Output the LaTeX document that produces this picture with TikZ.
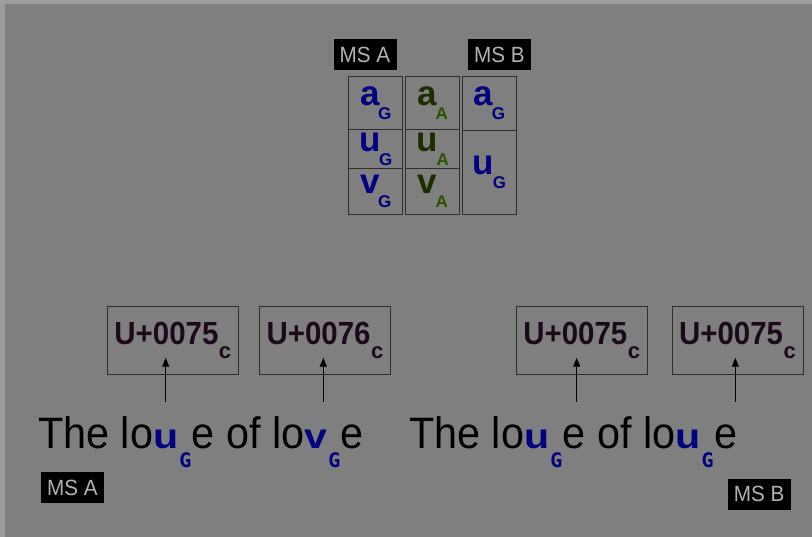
\documentclass[tikz,border=0pt]{standalone}
\usepackage{fontspec}
\usepackage{graphicx}
\setmainfont{Liberation Sans}
\newfontfamily\narrowfont[FakeStretch=0.94]{Liberation Sans}
\newfontfamily\codefont[FakeStretch=0.92]{Liberation Sans}
\newfontfamily\gmono{DejaVu Sans Mono}
\usetikzlibrary{arrows.meta}
\definecolor{bg}{HTML}{7F7F7F}
\definecolor{edgecol}{HTML}{9C9C9C}
\definecolor{navyG}{RGB}{0,0,128}
\definecolor{grA}{HTML}{1A2E00}
\definecolor{grAsub}{HTML}{2A5200}
\definecolor{codeC}{HTML}{1C0A1C}
\definecolor{boxline}{HTML}{2E2E2E}
\definecolor{labtxt}{HTML}{AEB4B4}
\newcommand{\sz}[1]{\fontsize{#1}{#1}\selectfont}
\newcommand{\cellG}[1]{\textcolor{navyG}{\bfseries\sz{35}#1\kern-1.5pt\raisebox{-14pt}{\sz{17}G}}}
\newcommand{\cellA}[1]{{\bfseries\sz{35}\textcolor{grA}{#1}\kern-1.5pt\raisebox{-14pt}{\textcolor{grAsub}{\sz{17}A}}}}
\newcommand{\codeU}[1]{{\codefont\bfseries\sz{32}\textcolor{codeC}{#1}}\kern0.5pt\raisebox{-14pt}{\bfseries\sz{22}\textcolor{codeC}{c}}}
\newcommand{\bu}[1]{\textcolor{navyG}{\scalebox{1.25}[1]{\bfseries\sz{35}#1}}\kern1pt\raisebox{-18.5pt}{\textcolor{navyG}{\gmono\bfseries\sz{20}G}}\kern0.5pt}
\tikzset{
  cell/.style={draw=boxline, line width=0.9pt, inner sep=0pt, anchor=north west},
  codebox/.style={draw=boxline, line width=0.9pt, minimum width=131pt, minimum height=68pt, inner sep=0pt},
  mslabel/.style={fill=black, text=labtxt, minimum width=63pt, minimum height=31pt, inner sep=0pt, font=\narrowfont\sz{22}},
  sentence/.style={anchor=base west, inner sep=0pt, font=\narrowfont\sz{44}},
  arr/.style={-{Triangle[length=9pt,width=7pt]}, line width=0.8pt, draw=black},
}
\begin{document}
\begin{tikzpicture}[x=1pt,y=-1pt]
\useasboundingbox (0,0) rectangle (812,537);
\fill[edgecol] (0,0) rectangle (812,537);
\fill[bg] (5,4) rectangle (812,537);

% top labels
\node[mslabel] (msAtop) at (365,54.5) {MS A};
\node[mslabel] (msBtop) at (499.5,55) {MS B};

% table column 1
\node[cell, minimum width=54pt, minimum height=52.6pt] (c11) at (348.3,76) {\cellG{a}};
\node[cell, minimum width=54pt, minimum height=39.6pt] (c12) at (348.3,128.6) {\cellG{u}};
\node[cell, minimum width=54pt, minimum height=45.8pt] (c13) at (348.3,168.2) {\cellG{v}};
% column 2
\node[cell, minimum width=54pt, minimum height=53.2pt] (c21) at (405.3,76) {\cellA{a}};
\node[cell, minimum width=54pt, minimum height=39pt] (c22) at (405.3,129.2) {\cellA{u}};
\node[cell, minimum width=54pt, minimum height=45.8pt] (c23) at (405.3,168.2) {\cellA{v}};
% column 3
\node[cell, minimum width=53.4pt, minimum height=53.6pt] (c31) at (462.3,76) {\cellG{a}};
\node[cell, minimum width=53.4pt, minimum height=84.4pt] (c32) at (462.3,129.6) {\cellG{u}};

% code boxes
\node[codebox] (b1) at (172.8,340) {\codeU{U+0075}};
\node[codebox] (b2) at (325,340) {\codeU{U+0076}};
\node[codebox] (b3) at (581.7,340) {\codeU{U+0075}};
\node[codebox] (b4) at (737.5,340) {\codeU{U+0075}};

% sentences
\node[sentence] (s1) at (38,449) {The lo\bu{u}e of lo\bu{v}e};
\node[sentence] (s2) at (409,449) {The lo\bu{u}e of lo\bu{u}e};

% arrows
\coordinate (t1) at (165.7,401.7);
\coordinate (t2) at (323.3,401.7);
\coordinate (t3) at (576.7,401.7);
\coordinate (t4) at (735.3,401.7);
\path (t1 |- b1.south) ++(0,-16.7) coordinate (h1);
\path (t2 |- b2.south) ++(0,-16.7) coordinate (h2);
\path (t3 |- b3.south) ++(0,-16.7) coordinate (h3);
\path (t4 |- b4.south) ++(0,-16.7) coordinate (h4);
\draw[arr] (t1) -- (h1);
\draw[arr] (t2) -- (h2);
\draw[arr] (t3) -- (h3);
\draw[arr] (t4) -- (h4);

% bottom labels
\node[mslabel] (msAbot) at (72.5,487.5) {MS A};
\node[mslabel] (msBbot) at (759.2,494.3) {MS B};
\end{tikzpicture}
\end{document}
